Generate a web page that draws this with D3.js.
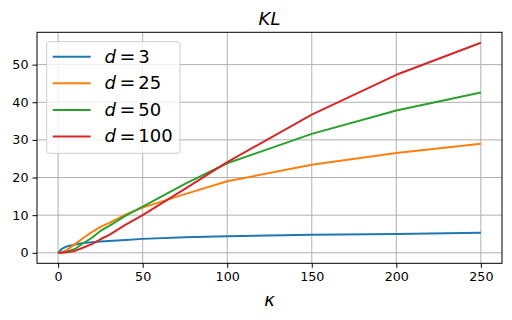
<!DOCTYPE html>
<html><head><meta charset="utf-8">
<script src="https://cdn.jsdelivr.net/npm/d3@7"></script>
<style>body{margin:0;background:#fff}svg{display:block}text{font-family:"DejaVu Sans",sans-serif}</style>
</head><body>
<svg id="c" width="512" height="320"></svg>
<script>
const kappa    = [0, 1,    2,    5,    10,  15,  20,  25,  30,  40,   50,   75,   100,  150,  200,  250];
const d3vals   = [0, 0.5,  1.0,  1.7,  2.2, 2.6, 2.8, 3.0, 3.15,3.4,  3.7,  4.1,  4.4,  4.8,  5.0,  5.3];
const d25vals  = [0, 0.04, 0.12, 0.7,  2.3, 4.0, 5.5, 6.9, 7.9, 10.2, 12.0, 15.6, 19.0, 23.4, 26.5, 29.0];
const d50vals  = [0, 0.02, 0.05, 0.3,  1.0, 2.6, 4.0, 5.8, 7.1, 9.9,  12.3, 18.3, 23.8, 31.6, 37.8, 42.6];
const d100vals = [0, 0.01, 0.03, 0.15, 0.5, 1.4, 2.3, 3.6, 4.7, 7.5,  10.0, 17.0, 24.1, 36.7, 47.3, 55.8];
const seriesNames = ["3", "25", "50", "100"];
const colors = ["#1f77b4", "#ff7f0e", "#2ca02c", "#d62728"];
const xTicks = [0, 50, 100, 150, 200, 250];
const yTicks = [0, 10, 20, 30, 40, 50];
const series = [d3vals, d25vals, d50vals, d100vals];

const L = 37, R = 502, T = 32.3, B = 263.3;
const svg = d3.select("#c");
const xmin = d3.min(kappa), xmax = d3.max(kappa);
const xpad = (xmax - xmin) * 0.05;
const allY = series.flat();
const ymin = d3.min(allY), ymax = d3.max(allY);
const ypad = (ymax - ymin) * 0.05;
const x = d3.scaleLinear().domain([xmin - xpad, xmax + xpad]).range([L, R]);
const y = d3.scaleLinear().domain([ymin - ypad, ymax + ypad]).range([B, T]);

// grid
const g = svg.append("g");
g.selectAll(".vg").data(xTicks).join("line")
  .attr("x1", d => x(d)).attr("x2", d => x(d)).attr("y1", T).attr("y2", B)
  .attr("stroke", "#b0b0b0").attr("stroke-width", 1);
g.selectAll(".hg").data(yTicks).join("line")
  .attr("y1", d => y(d)).attr("y2", d => y(d)).attr("x1", L).attr("x2", R)
  .attr("stroke", "#b0b0b0").attr("stroke-width", 1);

// lines
const line = d3.line().x((d, i) => x(kappa[i])).y(d => y(d));
series.forEach((s, i) => {
  svg.append("path").datum(s).attr("d", line).attr("fill", "none")
    .attr("stroke", colors[i]).attr("stroke-width", 2).attr("stroke-linejoin", "round").attr("stroke-linecap", "butt");
});

// axes
const xAxis = d3.axisBottom(x).tickValues(xTicks).tickSize(4.5).tickPadding(4).tickFormat(d3.format("d"));
const yAxis = d3.axisLeft(y).tickValues(yTicks).tickSize(4.5).tickPadding(4).tickFormat(d3.format("d"));
const gx = svg.append("g").attr("transform", `translate(0,${B})`).call(xAxis);
const gy = svg.append("g").attr("transform", `translate(${L},0)`).call(yAxis);
[gx, gy].forEach(a => {
  a.select(".domain").remove();
  a.selectAll("line").attr("stroke", "#000").attr("stroke-width", 1);
  a.selectAll("text").attr("font-size", 12.7).attr("fill", "#000").attr("font-family", "DejaVu Sans");
});
svg.append("rect").attr("x", L).attr("y", T).attr("width", R - L).attr("height", B - T)
  .attr("fill", "none").attr("stroke", "#000").attr("stroke-width", 1);

// title & label
svg.append("text").attr("x", (L + R) / 2).attr("y", 24.5).attr("text-anchor", "middle")
  .attr("font-size", 18).attr("font-style", "italic").text("KL");
svg.append("text").attr("x", (L + R) / 2).attr("y", 306).attr("text-anchor", "middle")
  .attr("font-size", 18).attr("font-style", "italic").text("κ");

// legend
const lg = svg.append("g");
lg.append("rect").attr("x", 46.7).attr("y", 41.7).attr("width", 133.3).attr("height", 111.6)
  .attr("rx", 3).attr("fill", "#fff").attr("fill-opacity", 0.8).attr("stroke", "#cccccc").attr("stroke-width", 1);
seriesNames.forEach((n, i) => {
  const cy = 56.7 + i * 26.6;
  lg.append("line").attr("x1", 52.7).attr("x2", 90.7).attr("y1", cy).attr("y2", cy)
    .attr("stroke", colors[i]).attr("stroke-width", 2);
  const t = lg.append("text").attr("x", 104.5).attr("y", cy + 5.8).attr("font-size", 18);
  t.append("tspan").attr("font-style", "italic").text("d");
  t.append("tspan").attr("dx", 3.5).attr("dy", 0.3).attr("font-size", 19).text("=");
  t.append("tspan").attr("dx", 3).attr("dy", -0.3).text(n);
});
</script>
</body></html>
